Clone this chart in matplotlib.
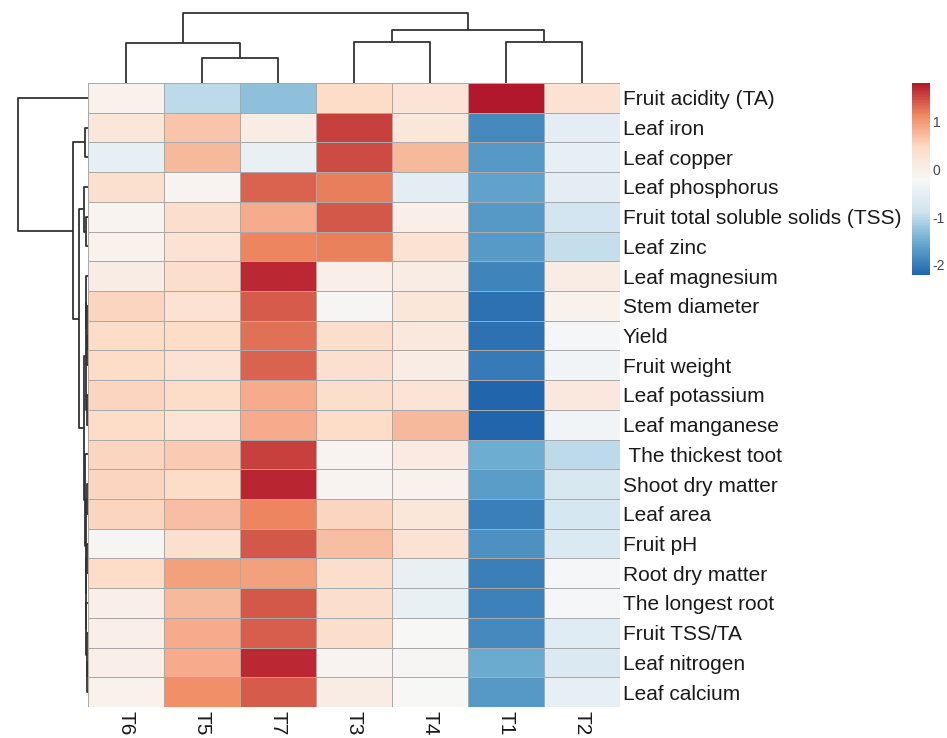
import numpy as np
import matplotlib
matplotlib.use("Agg")
import matplotlib.pyplot as plt
from matplotlib.colors import LinearSegmentedColormap, Normalize
from matplotlib.cm import ScalarMappable

plt.rcParams['font.family'] = ['Liberation Sans', 'DejaVu Sans']

# ---------------- data ----------------
columns = ["T6", "T5", "T7", "T3", "T4", "T1", "T2"]
rows = ["Fruit acidity (TA)", "Leaf iron", "Leaf copper", "Leaf phosphorus",
        "Fruit total soluble solids (TSS)", "Leaf zinc", "Leaf magnesium",
        "Stem diameter", "Yield", "Fruit weight", "Leaf potassium",
        "Leaf manganese", " The thickest toot", "Shoot dry matter", "Leaf area",
        "Fruit pH", "Root dry matter", "The longest root", "Fruit TSS/TA",
        "Leaf nitrogen", "Leaf calcium"]

r_ta   = [-0.05, -1.00, -1.30, 0.45, 0.25, 1.80, 0.30]
r_fe   = [0.20, 0.65, 0.05, 1.55, 0.20, -1.85, -0.55]
r_cu   = [-0.50, 0.75, -0.45, 1.50, 0.75, -1.70, -0.50]
r_p    = [0.35, -0.10, 1.35, 1.20, -0.55, -1.60, -0.55]
r_tss  = [-0.10, 0.40, 0.85, 1.42, 0.00, -1.70, -0.85]
r_zn   = [-0.05, 0.30, 1.15, 1.18, 0.30, -1.68, -0.95]
r_mg   = [0.05, 0.40, 1.70, 0.00, 0.05, -1.90, 0.05]
r_stem = [0.50, 0.30, 1.40, -0.15, 0.20, -2.10, -0.05]
r_yld  = [0.45, 0.45, 1.28, 0.40, 0.15, -2.10, -0.25]
r_fw   = [0.45, 0.30, 1.35, 0.35, 0.05, -2.00, -0.30]
r_k    = [0.50, 0.45, 0.85, 0.40, 0.25, -2.21, 0.15]
r_mn   = [0.45, 0.25, 0.85, 0.45, 0.75, -2.20, -0.30]
r_thk  = [0.50, 0.60, 1.55, -0.10, 0.10, -1.50, -1.00]
r_sdm  = [0.50, 0.45, 1.72, -0.10, -0.05, -1.65, -0.75]
r_la   = [0.50, 0.70, 1.15, 0.50, 0.20, -1.95, -0.80]
r_ph   = [-0.15, 0.35, 1.42, 0.70, 0.30, -1.78, -0.70]
r_rdm  = [0.45, 0.95, 0.95, 0.40, -0.45, -1.95, -0.25]
r_lr   = [0.00, 0.75, 1.42, 0.40, -0.45, -1.93, -0.25]
r_tssta = [0.00, 0.85, 1.38, 0.40, -0.20, -1.85, -0.60]
r_n    = [0.00, 0.85, 1.70, -0.10, -0.15, -1.52, -0.70]
r_ca   = [-0.05, 1.08, 1.40, 0.05, -0.20, -1.70, -0.50]

values = np.array([r_ta, r_fe, r_cu, r_p, r_tss, r_zn, r_mg, r_stem, r_yld, r_fw,
                   r_k, r_mn, r_thk, r_sdm, r_la, r_ph, r_rdm, r_lr, r_tssta,
                   r_n, r_ca])

# dendrogram trees: (left, right, merge height); leaves are indices in display order
col_tree = ((0, (1, 2, 25), 40), ((3, 4, 41), (5, 6, 41), 53), 70)
row_tree = (0,
            ((1, 2, 3),
             ((3, (4, 5, 2.0), 4.0),
              ((((6, (7, (8, 9, 0.8), 1.2), 1.8), (10, 11, 1.0), 2.5)),
               (12, ((13, 14, 1.2), ((15, 16, 1.0), (17, (18, (19, 20, 0.8), 1.2), 1.6), 2.0), 2.4), 3.0),
               4.5),
              9.0),
             15.0),
            70.0)

# ---------------- style ----------------
cmap = LinearSegmentedColormap.from_list(
    "rdbu7", ["#2166AC", "#67A9CF", "#D1E5F0", "#F7F7F7", "#FDDBC7", "#EF8A62", "#B2182B"])
vmin, vmax = -2.21, 1.80
norm = Normalize(vmin=vmin, vmax=vmax)

W, H = 947, 738
fig = plt.figure(figsize=(W / 100, H / 100), dpi=100)


def fax(x0, y0, x1, y1):
    return fig.add_axes([x0 / W, 1 - y1 / H, (x1 - x0) / W, (y1 - y0) / H])


hx0, hy0, hx1, hy1 = 88, 83, 620, 707
ax = fax(hx0, hy0, hx1, hy1)
nr, nc = values.shape
ax.pcolormesh(np.arange(nc + 1), np.arange(nr + 1), values, cmap=cmap, norm=norm,
              edgecolors="#A9A9A9", linewidth=0.7)
ax.set_xlim(0, nc)
ax.set_ylim(nr, 0)
for s in ax.spines.values():
    s.set_visible(False)
ax.set_xticks(np.arange(nc) + 0.5)
ax.set_xticklabels(columns, rotation=270, fontsize=15, color="#1a1a1a")
ax.set_yticks(np.arange(nr) + 0.5)
ax.set_yticklabels(rows, fontsize=15, color="#1a1a1a")
ax.yaxis.tick_right()
ax.tick_params(length=0, pad=2)
ax.tick_params(axis='x', pad=3)


def draw_tree(axd, tree, orient):
    # returns (position, height)
    if not isinstance(tree, tuple):
        return tree + 0.5, 0.0
    left, right, h = tree
    pl, hl = draw_tree(axd, left, orient)
    pr, hr = draw_tree(axd, right, orient)
    if orient == "top":
        axd.plot([pl, pl, pr, pr], [hl, h, h, hr], color="#333333", lw=1.3,
                 solid_capstyle="butt")
    else:
        axd.plot([hl, h, h, hr], [pl, pl, pr, pr], color="#333333", lw=1.3,
                 solid_capstyle="butt")
    return (pl + pr) / 2, h


axt = fax(hx0, 10, hx1, hy0)
draw_tree(axt, col_tree, "top")
axt.set_xlim(0, nc)
axt.set_ylim(0, 73)
axt.axis("off")

axl = fax(10, hy0, hx0, hy1)
draw_tree(axl, row_tree, "left")
axl.set_xlim(78, 0)
axl.set_ylim(nr, 0)
axl.axis("off")

cax = fax(912, 83, 930, 275)
sm = ScalarMappable(norm=norm, cmap=cmap)
cb = fig.colorbar(sm, cax=cax, ticks=[-2, -1, 0, 1])
cb.outline.set_visible(False)
cb.ax.tick_params(length=0, labelsize=10, labelcolor="#444444", pad=2)
cb.ax.set_yticklabels(["-2", "-1", "0", "1"])

fig.savefig("out.png", dpi=100, facecolor="white")
